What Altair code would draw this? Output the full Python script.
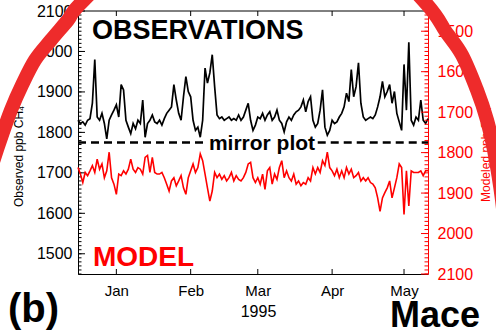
import altair as alt
import pandas as pd

# ---------------- data ----------------
days = list(range(-16, 131))  # days relative to 1 Jan 1995

obs_ppb = [1830, 1822, 1826, 1818, 1830, 1834, 1872, 1980, 1838, 1830, 1847, 1822, 1784, 1830, 1843, 1855,
           1868, 1838, 1918, 1905, 1830, 1813, 1797, 1822, 1809, 1830,
           1822, 1880, 1788, 1822, 1830, 1843, 1826, 1822, 1830, 1818,
           1834, 1847, 1855, 1863, 1918, 1880, 1847, 1830, 1888, 1938,
           1901, 1888, 1830, 1805, 1813, 1788, 1830, 1959, 1922, 1947,
           1992, 1913, 1843, 1834, 1838, 1830, 1834, 1838, 1830, 1834,
           1830, 1843, 1830, 1838, 1855, 1872, 1830, 1805, 1818, 1838,
           1834, 1847, 1830, 1843, 1851, 1830, 1838, 1855, 1830, 1822,
           1801, 1826, 1838, 1830, 1843, 1851, 1855, 1863, 1880, 1851,
           1876, 1888, 1830, 1813, 1822, 1855, 1905, 1813, 1793, 1805,
           1830, 1822, 1826, 1838, 1847, 1863, 1897, 1876, 1955, 1888,
           1913, 1972, 1872, 1838, 1830, 1834, 1838, 1834, 1843, 1863,
           1888, 1926, 1888, 1901, 1918, 1872, 1901, 1847, 1826, 1805,
           1968, 1855, 2023, 1830, 1818, 1838, 1830, 1880, 1830, 1822,
           1834]

model_ppb = [1837, 1853, 1874, 1849, 1857, 1845, 1832, 1849, 1816, 1841, 1828, 1862, 1845, 1799, 1862, 1878,
             1903, 1853, 1857, 1845, 1853, 1841, 1816, 1841, 1849, 1837,
             1841, 1853, 1812, 1807, 1849, 1812, 1849, 1853, 1853, 1849,
             1862, 1878, 1895, 1870, 1862, 1882, 1870, 1857, 1887, 1903,
             1862, 1845, 1828, 1849, 1837, 1803, 1820, 1853, 1887, 1920,
             1895, 1849, 1862, 1853, 1866, 1857, 1870, 1862, 1849, 1870,
             1857, 1866, 1870, 1862, 1849, 1828, 1824, 1862, 1874, 1862,
             1878, 1853, 1891, 1845, 1837, 1878, 1853, 1866, 1837, 1820,
             1862, 1845, 1862, 1870, 1853, 1878, 1870, 1882, 1874, 1878,
             1862, 1870, 1837, 1853, 1837, 1849, 1820, 1832, 1799, 1837,
             1845, 1857, 1841, 1862, 1845, 1862, 1837, 1853, 1841, 1862,
             1857, 1849, 1870, 1862, 1870, 1862, 1874, 1878, 1887, 1912,
             1945, 1912, 1899, 1887, 1870, 1912, 1887, 1862, 1828, 1837,
             1953, 1845, 1932, 1845, 1849, 1849, 1849, 1845, 1857, 1845,
             1845]

month_days = [0, 31, 59, 90, 120]
month_labels = ["Jan", "Feb", "Mar", "Apr", "May"]
major_ticks = [1500, 1600, 1700, 1800, 1900, 2000, 2100]
minor_ticks = list(range(1450, 2101, 10))
mirror_level = 1775
mirror_start = [-16, 84]
mirror_end = [37, 130]

# ---------------- styling ----------------
X_DOMAIN = [-16, 130]
Y_DOMAIN = [1450, 2100]
W, H = 350, 263
PAD_L, PAD_T = 78, 11
RED = "#ff0000"
ARC_RED = "#ee2b2b"
FONT = "Liberation Sans"

series = pd.DataFrame({"day": days, "obs": obs_ppb, "model": model_ppb})

label_expr = "''"
for d, m in reversed(list(zip(month_days, month_labels))):
    label_expr = f"datum.value == {d} ? '{m}' : ({label_expr})"


def xs():
    return alt.Scale(domain=X_DOMAIN, nice=False, zero=False)


def yl():
    return alt.Scale(domain=Y_DOMAIN, nice=False, zero=False)


def yr():
    return alt.Scale(domain=Y_DOMAIN, nice=False, zero=False, reverse=True)


def x_axis():
    return alt.Axis(values=month_days, labelExpr=label_expr, ticks=False, grid=False,
                    domainColor="black", domainWidth=1, labelColor="black", labelFontSize=15,
                    labelPadding=9, labelFont=FONT, labelFlush=False, title="1995",
                    titleFontSize=16, titleFont=FONT, titleFontWeight="normal", titleColor="black",
                    titleX=180, titleY=37, titleBaseline="middle", titleAlign="center")


left_axis = alt.Axis(orient="left", values=major_ticks, format="d", ticks=False, grid=False,
                     domainColor="black", domainWidth=1, labelColor="black", labelFontSize=16,
                     labelPadding=6, labelFont=FONT, labelOverlap=False,
                     title="Observed ppb CH₄", titleFont=FONT, titleFontSize=12,
                     titleFontWeight="normal", titleColor="black", titleAngle=270,
                     titleX=-60, titleY=145, titleBaseline="middle", titleAlign="center")

right_axis = alt.Axis(orient="right", values=major_ticks, format="d", ticks=False, grid=False,
                      domainColor=RED, domainWidth=1, labelColor=RED, labelFontSize=16,
                      labelPadding=9, labelFont=FONT, labelOverlap=False,
                      title="Modeled ppb CH₄", titleFont=FONT, titleFontSize=12,
                      titleFontWeight="normal", titleColor=RED, titleAngle=270,
                      titleX=57, titleY=143, titleBaseline="middle", titleAlign="center")

# ---------------- observations (left scale) ----------------
obs_line = alt.Chart(series).mark_line(color="black", strokeWidth=1.7).encode(
    x=alt.X("day:Q", scale=xs(), axis=x_axis()),
    y=alt.Y("obs:Q", scale=yl(), axis=left_axis),
)

mirror = alt.Chart(pd.DataFrame({"x0": mirror_start, "x1": mirror_end,
                                 "lvl": [mirror_level] * len(mirror_start)})).mark_rule(
    color="black", strokeWidth=2.5, strokeDash=[8, 5]).encode(
    x=alt.X("x0:Q", scale=xs(), axis=x_axis()),
    x2="x1:Q",
    y=alt.Y("lvl:Q", scale=yl(), axis=None),
)

left_major = alt.Chart(pd.DataFrame({"v": major_ticks})).mark_rule(color="black", strokeWidth=1).encode(
    y=alt.Y("v:Q", scale=yl(), axis=None), x=alt.value(0), x2=alt.value(7))
left_minor = alt.Chart(pd.DataFrame({"v": minor_ticks})).mark_rule(color="black", strokeWidth=1).encode(
    y=alt.Y("v:Q", scale=yl(), axis=None), x=alt.value(0), x2=alt.value(3.5))

# ---------------- model (right, reversed scale) ----------------
model_line = alt.Chart(series).mark_line(color=RED, strokeWidth=1.6).encode(
    x=alt.X("day:Q", scale=xs(), axis=x_axis()),
    y=alt.Y("model:Q", scale=yr(), axis=right_axis),
)
right_major = alt.Chart(pd.DataFrame({"v": major_ticks})).mark_rule(color=RED, strokeWidth=1).encode(
    y=alt.Y("v:Q", scale=yr(), axis=None), x=alt.value(W), x2=alt.value(W - 7))
right_minor = alt.Chart(pd.DataFrame({"v": minor_ticks})).mark_rule(color=RED, strokeWidth=1).encode(
    y=alt.Y("v:Q", scale=yr(), axis=None), x=alt.value(W), x2=alt.value(W - 3.5))

# ---------------- month ticks (inward) and top border ----------------
mdf = pd.DataFrame({"d": month_days})
ticks_bottom = alt.Chart(mdf).mark_rule(color="black", strokeWidth=1).encode(
    x=alt.X("d:Q", scale=xs(), axis=x_axis()), y=alt.value(H), y2=alt.value(H - 5))
ticks_top = alt.Chart(mdf).mark_rule(color="black", strokeWidth=1).encode(
    x=alt.X("d:Q", scale=xs(), axis=x_axis()), y=alt.value(0), y2=alt.value(5))
top_border = alt.Chart(pd.DataFrame({"k": [0]})).mark_rule(color="black", strokeWidth=1).encode(
    x=alt.value(0), x2=alt.value(W), y=alt.value(0))


def label(text, x, y, size, color="black", align="left", weight="bold"):
    return alt.Chart(pd.DataFrame({"t": [text]})).mark_text(
        font=FONT, fontSize=size, fontWeight=weight, color=color, align=align,
        baseline="alphabetic").encode(text="t:N", x=alt.value(x), y=alt.value(y))


t_obs = label("OBSERVATIONS", 14, 27.5, 27)
t_model = label("MODEL", 15, 255, 28, color=RED)
t_mirror = label("mirror plot", 184, 139, 21, align="center")
t_b = label("(b)", -70, 310.5, 40)
t_mace = label("Mace", 357, 316, 36, align="center")

# ---------------- decorative red arc (smooth path through traced points) ----------------
arc_pts = [(-25, 220), (-8, 165), (2, 135), (11, 110), (22, 85), (35, 60), (51, 40), (68, 20),
           (84, 0), (171, -82), (257, -110), (341, -82), (423, 0), (446, 32), (462, 55),
           (477, 90), (487, 120), (494, 150), (502, 200), (508, 260)]
pts = [(px - PAD_L, py - PAD_T) for px, py in arc_pts]
path = f"M {pts[0][0]} {pts[0][1]}"
for i in range(len(pts) - 1):
    p0 = pts[i - 1] if i > 0 else pts[i]
    p1, p2 = pts[i], pts[i + 1]
    p3 = pts[i + 2] if i + 2 < len(pts) else pts[i + 1]
    c1 = (p1[0] + (p2[0] - p0[0]) / 6, p1[1] + (p2[1] - p0[1]) / 6)
    c2 = (p2[0] - (p3[0] - p1[0]) / 6, p2[1] - (p3[1] - p1[1]) / 6)
    path += f" C {c1[0]:.1f} {c1[1]:.1f} {c2[0]:.1f} {c2[1]:.1f} {p2[0]:.1f} {p2[1]:.1f}"

arc = alt.Chart(pd.DataFrame({"k": [0]})).mark_point(
    shape=path, size=4, filled=False, strokeWidth=14,
    color=ARC_RED, opacity=1).encode(x=alt.value(0), y=alt.value(0))

chart = alt.layer(
    obs_line, mirror, left_major, left_minor,
    model_line, right_major, right_minor,
    ticks_bottom, ticks_top, top_border,
    t_obs, t_model, t_mirror, t_b, t_mace, arc,
).resolve_scale(y="independent").properties(
    width=W, height=H,
    autosize=alt.AutoSizeParams(type="none"),
    padding={"left": PAD_L, "top": PAD_T, "right": 496 - PAD_L - W, "bottom": 333 - PAD_T - H},
).configure(font=FONT).configure_view(stroke=None)

chart.save("out.html", embed_options={"renderer": "svg", "actions": False})
